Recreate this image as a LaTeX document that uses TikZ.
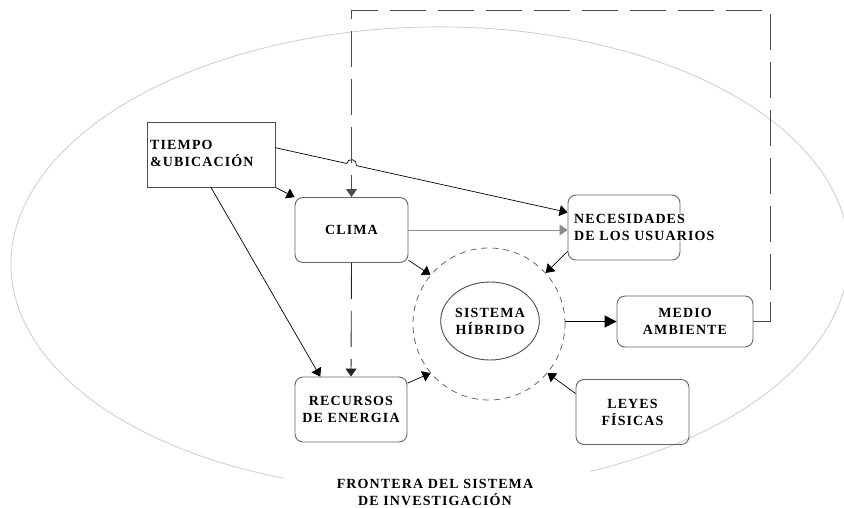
\documentclass[tikz,border=0pt]{standalone}
\usepackage{fontspec}
\setmainfont{Liberation Serif}[LetterSpace=8]
\usetikzlibrary{arrows.meta,calc,positioning,shapes.geometric}

\begin{document}
\begin{tikzpicture}[x=1pt,y=-1pt,font=\fontsize{14}{17}\selectfont\bfseries]
    \tikzstyle{box}=[draw=black!60,line width=0.9pt,rounded corners=8pt,
        minimum width=113pt,minimum height=65pt,align=center,inner sep=2pt]
    \tikzstyle{conn}=[line width=0.7pt,-{Triangle[length=8pt,width=11pt]}]
    \tikzstyle{loop}=[line width=0.9pt,draw=black!70,dash pattern=on 36pt off 12pt]
    \useasboundingbox (0,0) rectangle (844,508);
    % System boundary
    \coordinate (bnd) at (430,259);
    \draw[black!20,line width=0.8pt,rotate around={1:(bnd)}] (bnd) ++(-68:419pt and 232pt)
        arc[start angle=-68,end angle=249,x radius=419pt,y radius=232pt];
    \node[align=center] (frontera) at (435,492) {FRONTERA DEL SISTEMA\\DE INVESTIGACIÓN};
    % Boxes
    \node[draw=black!70,line width=0.9pt,minimum width=128pt,minimum height=65pt] (tiempo) at (211,154.5) {};
    \node[anchor=north west,align=left,inner sep=0pt] (tiempoTxt) at (150,140) {TIEMPO\\\&UBICACIÓN};
    \node[box] (clima) at (351.5,230) {CLIMA};
    \node[box,minimum width=112pt] (nec) at (624,227.5) {};
    \node[anchor=west,align=left,fill=white,inner sep=1pt] (necTxt) at (573,227) {NECESIDADES\\DE LOS USUARIOS};
    \node[box,minimum width=136pt,minimum height=51pt] (medio) at (685,321.5) {MEDIO\\AMBIENTE};
    \node[box,minimum width=112pt] (recursos) at (351,409.5) {RECURSOS\\DE ENERGIA};
    \node[box] (leyes) at (632.5,412) {LEYES\\FÍSICAS};
    % Hybrid system
    \node[circle,draw=black!60,line width=0.8pt,dash pattern=on 6pt off 5pt,minimum size=152pt] (circ) at (489,324) {};
    \node[ellipse,draw=black!70,line width=0.9pt,minimum width=90pt,minimum height=78pt,align=center,inner sep=0pt] (hibrido) at (490,321) {SISTEMA\\HÍBRIDO};
    % Arrows
    \coordinate (fbR) at (770,10);
    \coordinate (fbL) at (351.5,10);
    \coordinate (hop) at (intersection of tiempo.6--nec.165 and clima.north--fbL);
    \draw[conn] (tiempo.6) -- ($(hop)!5pt!(tiempo.6)$)
        arc[start angle=167.5,end angle=-12.5,radius=5pt] -- (nec.165);
    \draw[conn] (tiempo.south east) -- (clima.north west);
    \draw[conn] (tiempo.south) -- (recursos.133);
    \draw[conn,draw=black!45] (clima.east) -- (clima.east -| nec.west);
    \draw[conn] (clima.-28) -- (circ.140);
    \draw[conn] (nec.203) -- (circ.42);
    \draw[conn] (recursos.25) -- (circ.220);
    \draw[conn] (leyes.162) -- (circ.320);
    \draw[line width=1.4pt,-{Triangle[length=12pt,width=12pt]}] (circ.east |- medio.west) -- (medio.west);
    % Feedback loop
    \draw[loop,-{Triangle[length=8pt,width=11pt]}] (medio.east) -| (fbR) -- (fbL) -- (clima.north);
    \draw[loop,draw=black!85,-{Triangle[length=8pt,width=11pt]}] (clima.south) -- (recursos.north);
\end{tikzpicture}
\end{document}
